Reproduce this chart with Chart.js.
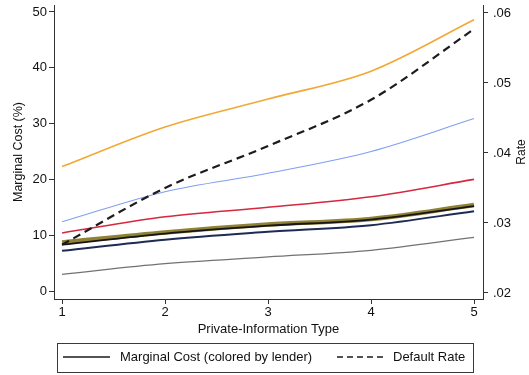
<!DOCTYPE html>
<html>
<head>
<meta charset="utf-8">
<script src="https://cdn.jsdelivr.net/npm/chart.js@4/dist/chart.umd.min.js"></script>
<style>
  html, body { margin: 0; padding: 0; background: #fff; }
  canvas { display: block; }
</style>
</head>
<body>
<canvas id="chart" width="529" height="375"></canvas>
<script>
// Private-information types on the x axis
const types = [1, 2, 3, 4, 5];

// Marginal cost (%) by lender
const costOrange = [22.3, 29.4, 34.4, 39.4, 48.6];
const costBlue   = [12.4, 17.8, 21.1, 25.0, 30.9];
const costRed    = [10.4, 13.3, 15.0, 16.9, 20.0];
const costBlack  = [8.3, 10.3, 11.7, 12.8, 15.2];
const costOlive  = [8.7, 10.5, 11.9, 12.9, 15.4];
const costNavy   = [7.2, 9.2, 10.6, 11.8, 14.3];
const costGray   = [3.0, 4.9, 6.1, 7.3, 9.6];

// Default rate (right axis)
const defaultRate = [0.0269, 0.0350, 0.0410, 0.0476, 0.0577];

// Tick labels
const typeTicks = [1, 2, 3, 4, 5];
const costTicks = [0, 10, 20, 30, 40, 50];
const rateTicks = [0.02, 0.03, 0.04, 0.05, 0.06];

const legendLabels = ['Marginal Cost (colored by lender)', 'Default Rate'];
const rateTitle = 'Rate';

const FONT = '"Liberation Sans", Arial, Helvetica, sans-serif';
const INK = '#111111';
const AXIS = '#333333';

const pts = vals => vals.map((v, i) => ({ x: types[i], y: v }));

function costLine(vals, color, width) {
  return {
    data: pts(vals), yAxisID: 'y', borderColor: color, borderWidth: width,
    pointRadius: 0, cubicInterpolationMode: 'monotone', fill: false
  };
}

const datasets = [
  {
    label: 'Default Rate', data: pts(defaultRate), yAxisID: 'y1',
    borderColor: '#1c1c1c', borderWidth: 2.2, borderDash: [8, 5],
    pointRadius: 0, cubicInterpolationMode: 'monotone', fill: false
  },
  costLine(costBlack, '#151515', 1.8),
  costLine(costOlive, '#8f8237', 4.5),
  costLine(costOrange, '#f2a834', 1.6),
  costLine(costBlue, '#7f9ff0', 1.1),
  costLine(costRed, '#d6283e', 1.6),
  costLine(costNavy, '#1e2c55', 2),
  costLine(costGray, '#6f7472', 1.3)
];

const fixedTicks = values => scale => { scale.ticks = values.map(v => ({ value: v })); };

// Keep tick-label overhang from shrinking the plot area
const noOverhang = size => scale => {
  if (scale.isHorizontal()) { scale.height = size; } else { scale.width = size; }
  scale.paddingTop = 0; scale.paddingBottom = 0;
  scale.paddingLeft = 0; scale.paddingRight = 0;
};

// Legend box and right-axis title, read bottom to top
const decorations = {
  id: 'decorations',
  afterDraw(chart) {
    const ctx = chart.ctx;
    const area = chart.chartArea;
    ctx.save();

    ctx.fillStyle = INK;
    ctx.font = '12px ' + FONT;
    ctx.textAlign = 'center';
    ctx.textBaseline = 'middle';
    ctx.translate(522, (area.top + area.bottom) / 2);
    ctx.rotate(-Math.PI / 2);
    ctx.fillText(rateTitle, 0, 0);
    ctx.setTransform(1, 0, 0, 1, 0, 0);

    ctx.strokeStyle = '#3a3a3a';
    ctx.lineWidth = 1;
    ctx.strokeRect(57.5, 343.5, 416, 29);

    const cy = 357;
    ctx.strokeStyle = '#1a1a1a';
    ctx.lineWidth = 1.4;
    ctx.beginPath(); ctx.moveTo(63, cy); ctx.lineTo(110, cy); ctx.stroke();

    ctx.setLineDash([6, 4]);
    ctx.beginPath(); ctx.moveTo(337, cy); ctx.lineTo(384, cy); ctx.stroke();
    ctx.setLineDash([]);

    ctx.font = '13px ' + FONT;
    ctx.textAlign = 'left';
    ctx.fillText(legendLabels[0], 120, cy);
    ctx.fillText(legendLabels[1], 393, cy);
    ctx.restore();
  }
};

new Chart(document.getElementById('chart'), {
  type: 'line',
  data: { datasets },
  plugins: [decorations],
  options: {
    responsive: false,
    animation: false,
    layout: { padding: { top: 5, left: 0, right: 0, bottom: 38 } },
    plugins: { legend: { display: false }, tooltip: { enabled: false } },
    scales: {
      x: {
        type: 'linear', min: 0.922, max: 5.087,
        afterBuildTicks: fixedTicks(typeTicks),
        afterFit: noOverhang(38),
        grid: { drawOnChartArea: false, drawTicks: true, tickLength: 5, color: AXIS },
        border: { display: true, color: AXIS, width: 1 },
        ticks: { color: INK, font: { family: FONT, size: 13 }, padding: 1, maxRotation: 0 },
        title: { display: true, text: 'Private-Information Type', color: INK,
                 font: { family: FONT, size: 13 }, padding: { top: 0, bottom: 0 } }
      },
      y: {
        type: 'linear', position: 'left', min: -1.43, max: 51.25,
        afterBuildTicks: fixedTicks(costTicks),
        afterFit: noOverhang(54),
        grid: { drawOnChartArea: false, drawTicks: true, tickLength: 5, color: AXIS },
        border: { display: true, color: AXIS, width: 1 },
        ticks: { color: INK, font: { family: FONT, size: 13 }, padding: 2 },
        title: { display: true, text: 'Marginal Cost (%)', color: INK,
                 font: { family: FONT, size: 12.5 }, padding: { top: 11, bottom: 0 } }
      },
      y1: {
        type: 'linear', position: 'right', min: 0.01914, max: 0.06114,
        afterBuildTicks: fixedTicks(rateTicks),
        afterFit: noOverhang(46),
        grid: { drawOnChartArea: false, drawTicks: true, tickLength: 5, color: AXIS },
        border: { display: true, color: AXIS, width: 1 },
        ticks: { color: INK, font: { family: FONT, size: 13 }, padding: 5,
                 callback: v => v.toFixed(2).replace(/^0/, '') },
        title: { display: false }
      }
    }
  }
});
</script>
</body>
</html>
